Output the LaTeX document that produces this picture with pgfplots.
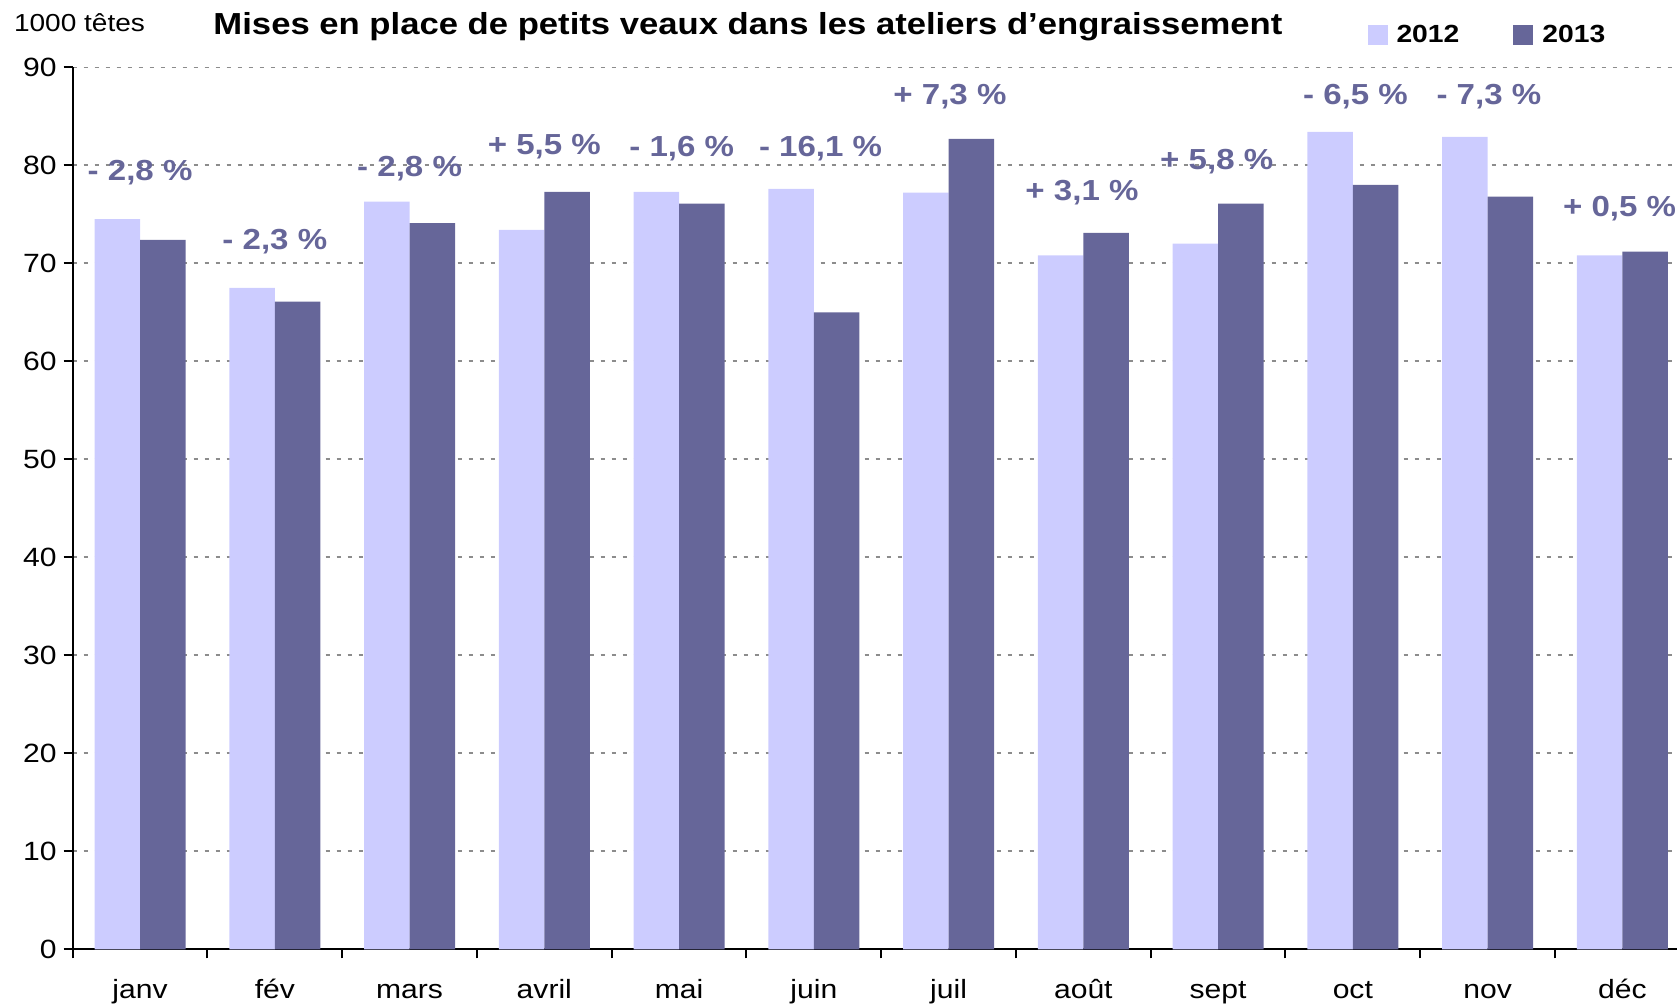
\documentclass[border=0pt]{standalone}
\usepackage{fontspec}
\setmainfont{Liberation Sans}[FakeStretch=1.14]
\usepackage{pgfplots}
\pgfplotsset{compat=1.18}
\definecolor{c12}{HTML}{CCCCFF}
\definecolor{c13}{HTML}{666699}
\definecolor{gridc}{RGB}{140,140,140}
\tikzset{lbl/.style={font=\bfseries\fontsize{14.5}{17}\selectfont, text=c13, inner sep=0pt}}
\begin{document}
\begin{tikzpicture}
\useasboundingbox (0,0) rectangle (838.5pt,502.5pt);
\begin{axis}[
  at={(36.35pt,27.85pt)}, anchor=south west,
  scale only axis, width=808.5pt, height=441pt,
  xmin=-0.5, xmax=11.5, ymin=0, ymax=90,
  ybar=0pt, bar width=22.75pt,
  axis x line=bottom, axis y line=left,
  axis line style={-, line width=1pt},
  tick align=outside, major tick length=4.5pt,
  tick style={line width=1pt, black},
  xtick={-0.5,0.5,1.5,2.5,3.5,4.5,5.5,6.5,7.5,8.5,9.5,10.5,11.5},
  x tick label as interval,
  xticklabels={janv,fév,mars,avril,mai,juin,juil,août,sept,oct,nov,déc},
  xticklabel style={yshift=-9.5pt, text height=0.73em, text depth=0.2em},
  ytick={0,10,...,90},
  ymajorgrids,
  grid style={gridc, dash pattern=on 2pt off 3.5pt, line width=0.8pt},
  /pgf/number format/assume math mode=true,
  tick label style={font=\fontsize{13.2}{15}\selectfont},
  legend columns=2,
  legend style={at={(0.8005,1.0366)}, anchor=west, draw=none, fill=none,
    inner sep=0pt, font=\bfseries\fontsize{12.4}{14}\selectfont,
    /tikz/every even column/.append style={column sep=27pt},
    /tikz/every odd column/.append style={column sep=4.5pt},
    nodes={inner sep=0pt}},
  legend image code/.code={\fill[#1] (0pt,-5pt) rectangle (10pt,5pt);},
]
\addplot[fill=c12, draw=none] coordinates {
  (0,74.5) (1,67.5) (2,76.3) (3,73.4) (4,77.3) (5,77.6)
  (6,77.2) (7,70.8) (8,72.0) (9,83.4) (10,82.9) (11,70.8)};
\addlegendentry{2012}
\addplot[fill=c13, draw=none] coordinates {
  (0,72.4) (1,66.1) (2,74.1) (3,77.3) (4,76.1) (5,65.0)
  (6,82.7) (7,73.1) (8,76.1) (9,78.0) (10,76.8) (11,71.2)};
\addlegendentry{2013}
\node[lbl] at (axis cs:0,79.3) {- 2,8 \%};
\node[lbl] at (axis cs:1,72.2) {- 2,3 \%};
\node[lbl] at (axis cs:2,79.7) {- 2,8 \%};
\node[lbl] at (axis cs:3,81.9) {+ 5,5 \%};
\node[lbl] at (axis cs:4.02,81.7) {- 1,6 \%};
\node[lbl] at (axis cs:5.05,81.7) {- 16,1 \%};
\node[lbl] at (axis cs:6.01,87.0) {+ 7,3 \%};
\node[lbl] at (axis cs:6.99,77.2) {+ 3,1 \%};
\node[lbl] at (axis cs:7.99,80.4) {+ 5,8 \%};
\node[lbl] at (axis cs:9.02,87.0) {- 6,5 \%};
\node[lbl] at (axis cs:10.01,87.0) {- 7,3 \%};
\node[lbl] at (axis cs:10.98,75.6) {+ 0,5 \%};
\end{axis}
\node[font=\bfseries\fontsize{15.2}{17}\selectfont] at (374pt,489.15pt)
  {Mises en place de petits veaux dans les ateliers d’engraissement};
\node[font=\fontsize{12.3}{14}\selectfont] at (39.75pt,491pt) {1000 têtes};
\end{tikzpicture}
\end{document}
